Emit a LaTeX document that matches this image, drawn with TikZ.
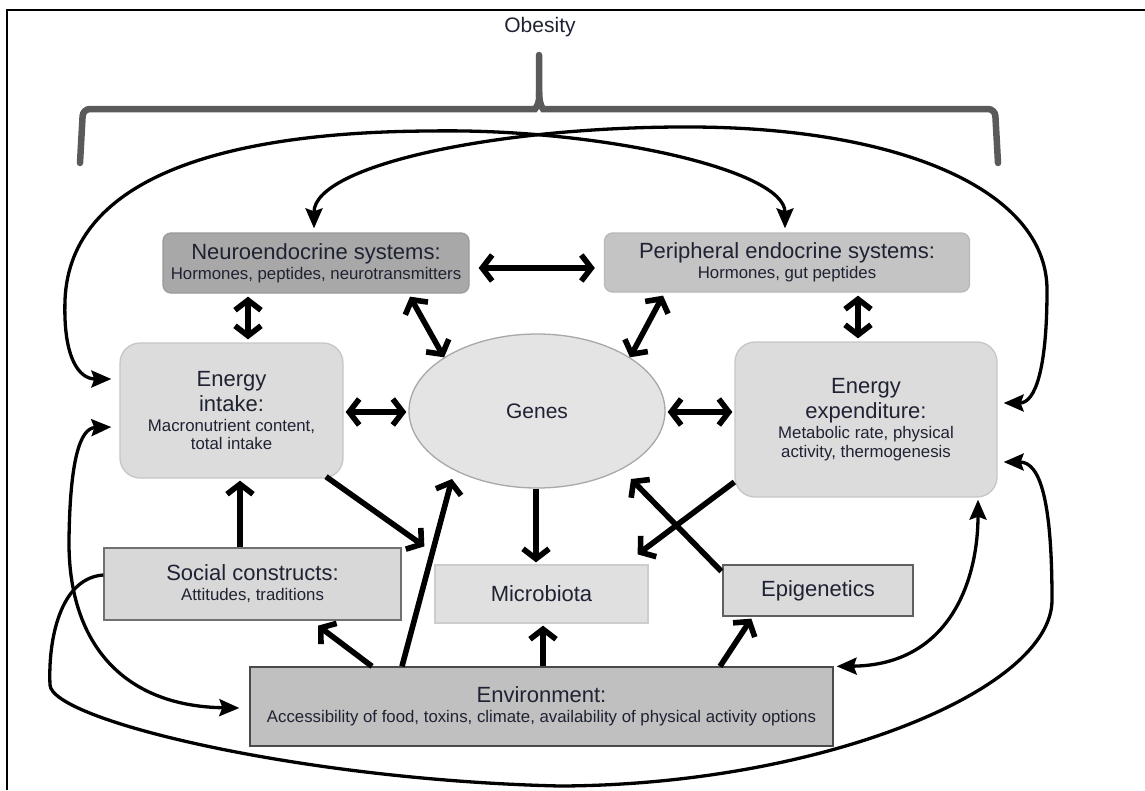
\documentclass[tikz,border=0pt]{standalone}
\usepackage{fontspec}
\setmainfont{Liberation Sans}
\usetikzlibrary{arrows.meta,calc,shapes.geometric}
\newcommand{\mytitle}{\fontsize{22}{25}\selectfont}
\newcommand{\mysub}{\fontsize{16.8}{25}\selectfont}
\definecolor{txt}{HTML}{1F2233}
\definecolor{neufill}{HTML}{A8A8A8}
\definecolor{neudraw}{HTML}{9A9A9A}
\definecolor{perfill}{HTML}{C4C4C4}
\definecolor{perdraw}{HTML}{B8B8B8}
\definecolor{eifill}{HTML}{DCDCDC}
\definecolor{eidraw}{HTML}{C6C6C6}
\definecolor{genefill}{HTML}{E4E4E4}
\definecolor{genedraw}{HTML}{A8A8A8}
\definecolor{socfill}{HTML}{D8D8D8}
\definecolor{socdraw}{HTML}{707070}
\definecolor{micfill}{HTML}{E0E0E0}
\definecolor{micdraw}{HTML}{CDCDCD}
\definecolor{epifill}{HTML}{DADADA}
\definecolor{epidraw}{HTML}{606060}
\definecolor{envfill}{HTML}{C0C0C0}
\definecolor{envdraw}{HTML}{4A4A4A}
\definecolor{bracecol}{HTML}{5A5A5A}
\begin{document}
\begin{tikzpicture}[x=1pt,y=-1pt,
  box/.style={inner sep=0pt, align=center, text=txt, font=\mysub, line width=1.3pt},
  tharr/.style={line width=5.6pt, >={Straight Barb[length=10pt,width=26pt]}},
  cvarr/.style={line width=3.3pt, >={Stealth[length=20pt,width=17pt,inset=3pt]}},
  bracestyle/.style={draw=bracecol, line width=6.5pt, rounded corners=7pt, line cap=round}]
\useasboundingbox (0,0) rectangle (1145,790);
% frame
\draw[line width=2.5pt] (7,790) -- (7,10) -- (1145,10);
% title and brace
\node[text=txt, font=\fontsize{21}{24}\selectfont] (obesity) at (540,27) {Obesity};
\draw[bracestyle] (80,163) -- (83,109) -- (528,109) .. controls (535,109) and (539,104) .. (539,92) -- (539,55);
\draw[bracestyle] (998,163) -- (995,109) -- (550,109) .. controls (543,109) and (539,104) .. (539,92);
% nodes
\node[box, rounded corners=8pt, fill=neufill, draw=neudraw, minimum width=306pt, minimum height=60pt] (neuro) at (316,263)
  {{\mytitle Neuroendocrine systems:}\\[-5pt]Hormones, peptides, neurotransmitters};
\node[box, rounded corners=8pt, fill=perfill, draw=perdraw, minimum width=365pt, minimum height=59pt] (periph) at (787,262.5)
  {{\mytitle Peripheral endocrine systems:}\\[-5pt]Hormones, gut peptides};
\node[box, rounded corners=20pt, fill=eifill, draw=eidraw, minimum width=223pt, minimum height=135pt] (ei) at (231.5,410.5)
  {{\mytitle Energy}\\{\mytitle intake:}\\[-5pt]Macronutrient content,\\[-6.5pt]total intake};
\node[box, rounded corners=20pt, fill=eifill, draw=eidraw, minimum width=262pt, minimum height=155pt] (ee) at (866,419.5)
  {{\mytitle Energy}\\{\mytitle expenditure:}\\[-5pt]Metabolic rate, physical\\[-6.5pt]activity, thermogenesis};
\node[box, ellipse, fill=genefill, draw=genedraw, minimum width=256pt, minimum height=154pt, font=\fontsize{21}{24}\selectfont] (genes) at (537,411) {Genes};
\node[box, fill=socfill, draw=socdraw, minimum width=297pt, minimum height=72pt] (social) at (252.5,584)
  {{\mytitle Social constructs:}\\[-5pt]Attitudes, traditions};
\node[box, fill=micfill, draw=micdraw, minimum width=213pt, minimum height=58pt, font=\mytitle] (micro) at (541.5,594) {Microbiota};
\node[box, fill=epifill, draw=epidraw, minimum width=190pt, minimum height=51pt, font=\mytitle] (epi) at (818,590.5) {Epigenetics};
\node[box, fill=envfill, draw=envdraw, minimum width=583pt, minimum height=79pt] (env) at (541.5,706.5)
  {{\mytitle Environment:}\\[-5pt]Accessibility of food, toxins, climate, availability of physical activity options};
% curved connectors
\draw[cvarr,<->] ($(periph.north)+(-2,-4)$) .. controls (785,170) and (600,128) .. (430,131)
  .. controls (230,132) and (70,175) .. (65,300) .. controls (63,360) and (80,379) .. ($(ei.west)+(-8,-31.5)$);
\draw[cvarr,<->] ($(neuro.north)+(-2,-4)$) .. controls (314,165) and (500,126) .. (693,127)
  .. controls (900,128) and (1047,190) .. (1047,290) .. controls (1047,370) and (1035,403) .. ($(ee.east)+(6,-16.5)$);
\draw[cvarr,<->] ($(ei.west)+(-8,16.5)$) .. controls (80,428) and (70,460) .. (69,540)
  .. controls (68,640) and (120,706) .. ($(env.west)+(-10,1.5)$);
\draw[cvarr,->] ($(social.west)+(0,-9)$) .. controls (60,578) and (48,640) .. (50,685)
  .. controls (52,720) and (300,780) .. (560,786) .. controls (820,785) and (1052,690) .. (1052,600)
  .. controls (1052,500) and (1040,462) .. ($(ee.east)+(6,42.5)$);
\draw[cvarr,<->] ($(env.north east)+(3,0)$) .. controls (950,665) and (978,580) .. ($(ee.south)+(112,2)$);
% straight connectors
\draw[tharr,<->] ($(neuro.east)+(9,5)$) -- ($(periph.west)+(-9,5.5)$);
\draw[tharr,<->] ($(neuro.south)+(-68,3)$) -- ($(ei.north)+(16.5,-3)$);
\draw[tharr,<->] ($(neuro.south)+(94,3)$) -- (genes.150);
\draw[tharr,<->] ($(periph.south)+(-124,3)$) -- (genes.30);
\draw[tharr,<->] ($(periph.south)+(71,3)$) -- ($(ee.north)+(-8,-3)$);
\draw[tharr,<->] ($(ei.east)+(2,1.5)$) -- ($(genes.west)+(-2,1)$);
\draw[tharr,<->] ($(genes.east)+(2,1)$) -- ($(ee.west)+(-2,-7.5)$);
\draw[tharr,->] ($(social.north)+(-12.5,0)$) -- ($(ei.south)+(8.5,2)$);
\draw[tharr,->] ($(ei.south)+(94.5,-2)$) -- ($(micro.north west)+(-10,-18)$);
\draw[tharr,->] ($(env.north)+(-139.5,0)$) -- ($(genes.center)+(-85,68)$);
\draw[tharr,->] ($(env.north)+(-169.5,0)$) -- ($(social.south)+(65.5,5)$);
\draw[tharr,->] ($(genes.south)+(-1,0)$) -- ($(micro.north)+(-5.5,-2)$);
\draw[tharr,->] ($(env.north)+(1.5,0)$) -- ($(micro.south)+(1.5,2)$);
\draw[tharr,->] ($(ee.west)+(0,62.5)$) -- ($(micro.north east)+(-11,-10)$);
\draw[tharr,->] ($(epi.north west)+(-1,7)$) -- ($(genes.center)+(94,68)$);
\draw[tharr,->] ($(env.north)+(178.5,0)$) -- ($(epi.south west)+(29,2)$);
\end{tikzpicture}
\end{document}
